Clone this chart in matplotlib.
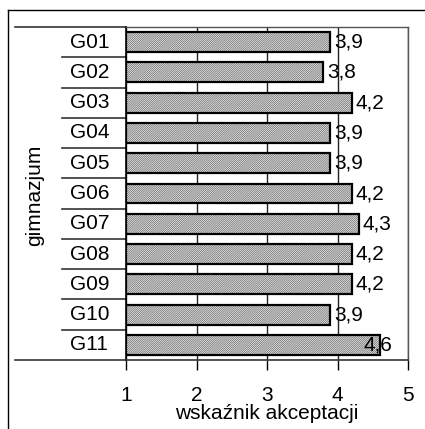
import matplotlib
matplotlib.use('Agg')
import matplotlib.pyplot as plt
from matplotlib.lines import Line2D
import matplotlib.transforms as mtransforms

plt.rcParams['font.family'] = ['Liberation Sans', 'DejaVu Sans']
plt.rcParams['hatch.linewidth'] = 0.6

categories = ['G01', 'G02', 'G03', 'G04', 'G05', 'G06', 'G07', 'G08', 'G09', 'G10', 'G11']
values = [3.9, 3.8, 4.2, 3.9, 3.9, 4.2, 4.3, 4.2, 4.2, 3.9, 4.6]
xticks = [1, 2, 3, 4, 5]

fs = 15

fig = plt.figure(figsize=(4.25, 4.29), dpi=100)
ax = fig.add_axes([126 / 425, 1 - 360 / 429, (408 - 126) / 425, (360 - 27) / 429])

y = list(range(len(categories)))
widths = [v - 1 for v in values]
# hatched fill in grey, then a black outline on top
ax.barh(y, widths, left=1, height=0.66, color='white', edgecolor='#707070',
        linewidth=0, hatch='/' * 16, zorder=3)
ax.barh(y, widths, left=1, height=0.66, fill=False, edgecolor='black',
        linewidth=1.6, zorder=3)

ax.set_xlim(1, 5)
ax.set_ylim(len(categories) - 0.5, -0.5)
ax.set_xticks(xticks)
ax.set_xticklabels([str(t) for t in xticks], fontsize=fs)
ax.tick_params(axis='x', direction='out', length=7, width=1, pad=12)
ax.set_yticks([])
ax.grid(axis='x', color='#222222', linewidth=1, zorder=0)

for side in ['top', 'right']:
    ax.spines[side].set_color('#555555')
    ax.spines[side].set_linewidth(1)
ax.spines['left'].set_linewidth(1.2)
ax.spines['bottom'].set_linewidth(1.2)
ax.spines['bottom'].set_color('#333333')

ax.set_xlabel('wskaźnik akceptacji', fontsize=fs, labelpad=-1)

# value labels, kept inside the plot area like the original
label_max = 5 - 0.68
for i, v in enumerate(values):
    ax.annotate(f'{v:.1f}'.replace('.', ','), (min(v, label_max), i),
                xytext=(2.5, 0), textcoords='offset points', fontsize=fs,
                va='center', ha='left', zorder=4)

# category labels and separators of the category axis
trans = mtransforms.blended_transform_factory(ax.transAxes, ax.transData)
for i, c in enumerate(categories):
    ax.text(-0.13, i, c, transform=trans, fontsize=fs, ha='center', va='center')
for i in range(len(categories) + 1):
    b = i - 0.5
    x0 = -0.394 if i in (0, len(categories)) else -0.227
    ax.add_line(Line2D([x0, 0], [b, b], transform=trans, color='#333333',
                       linewidth=1.2, clip_on=False))

fig.text(35 / 425, 1 - 195 / 429, 'gimnazjum', rotation=90, fontsize=fs,
         ha='center', va='center')

# outer chart frame
fig.add_artist(Line2D([8 / 425, 8 / 425], [0, 1 - 10 / 429], transform=fig.transFigure,
                      color='black', linewidth=1))
fig.add_artist(Line2D([8 / 425, 1], [1 - 10 / 429, 1 - 10 / 429], transform=fig.transFigure,
                      color='black', linewidth=1))

fig.savefig('out.png', dpi=100)
